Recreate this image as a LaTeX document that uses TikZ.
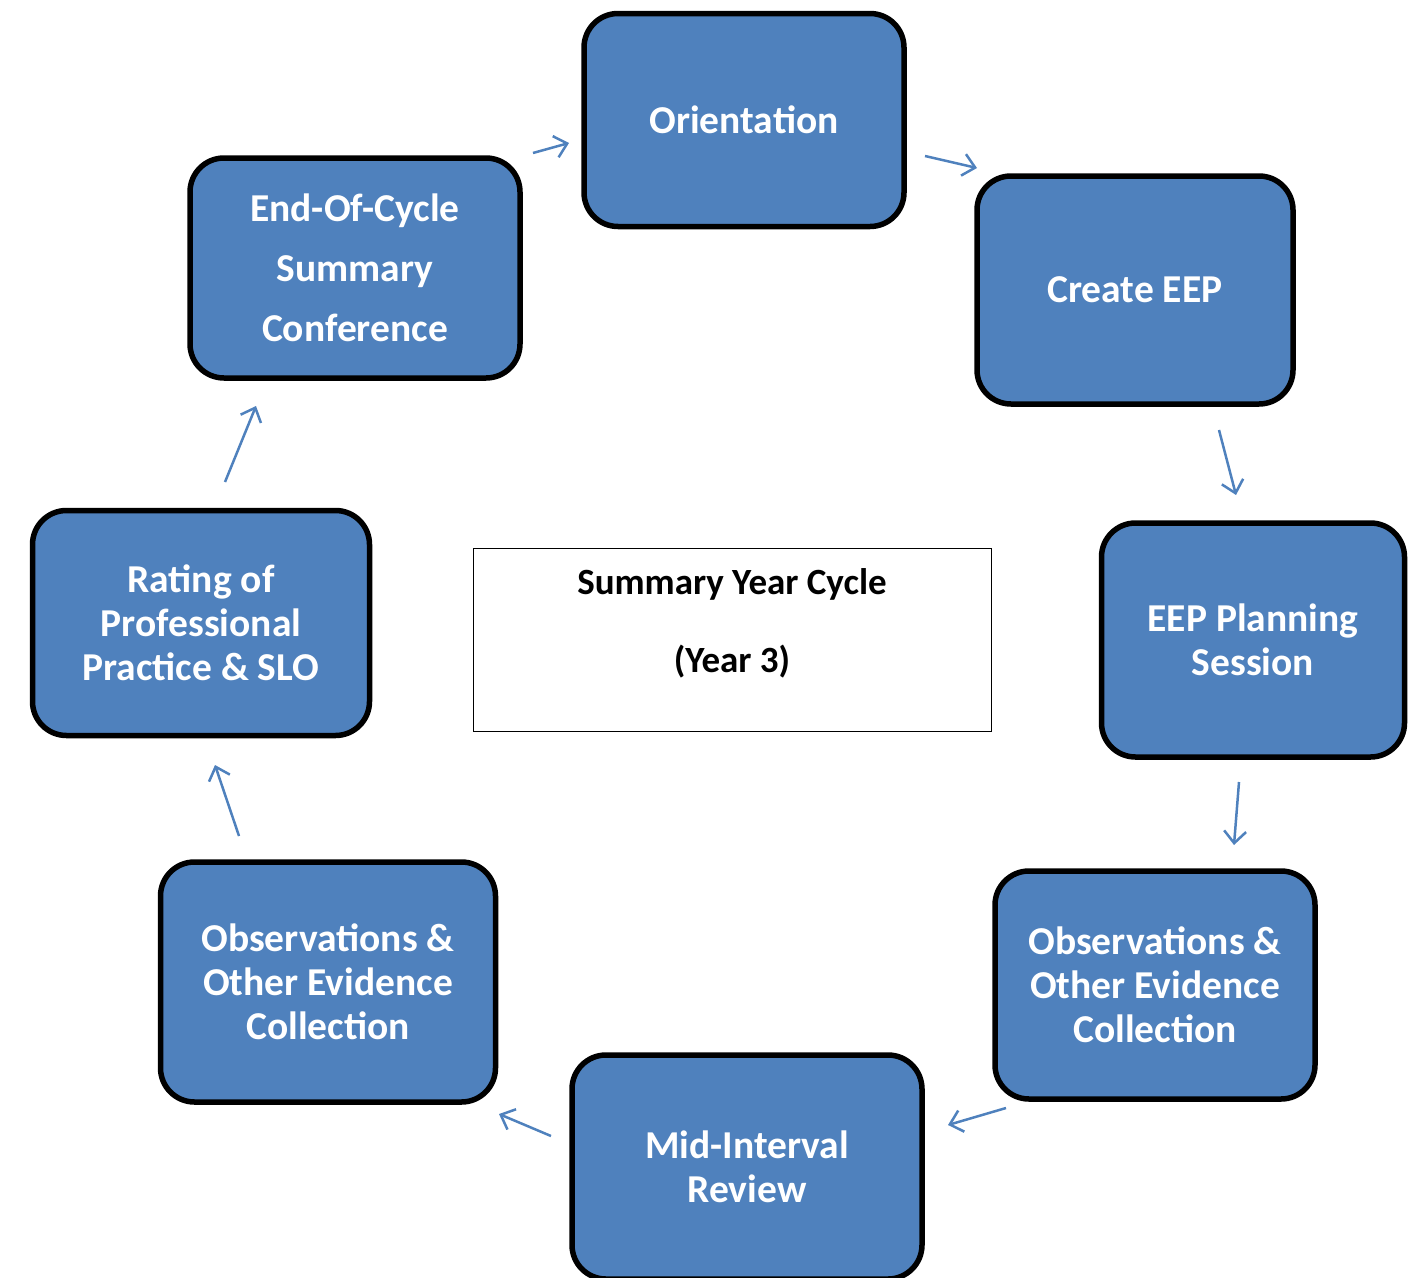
\documentclass[tikz,border=0pt]{standalone}
\usepackage{fontspec}
\setmainfont{Carlito}
\usetikzlibrary{arrows.meta}
\definecolor{stageblue}{HTML}{4F81BD}

\begin{document}
\begin{tikzpicture}[x=1pt,y=-1pt,
	stage/.style={draw=black,line width=5.5pt,fill=stageblue,rounded corners=34pt,
		text=white,align=center,inner sep=0pt,font=\bfseries\fontsize{39.5}{44}\selectfont},
	flow/.style={draw=stageblue,line width=2.5pt,-{Straight Barb[length=12pt,width=22pt]}}]
	\useasboundingbox (0,0) rectangle (1424,1277);
	% the eight stages of the cycle
	\node[stage,minimum width=320pt,minimum height=213pt] (orient) at (744,120) {Orientation};
	\node[stage,minimum width=316pt,minimum height=228pt] (create) at (1135,290) {Create EEP};
	\node[stage,minimum width=303pt,minimum height=234pt] (plan) at (1253,640) {EEP Planning\\Session};
	\node[stage,minimum width=320pt,minimum height=228pt] (obsright) at (1155,985) {Observations \&\\Other Evidence\\Collection};
	\node[stage,minimum width=350pt,minimum height=224pt] (mid) at (747,1167) {Mid-Interval\\Review};
	\node[stage,minimum width=335pt,minimum height=240pt] (obsleft) at (328,982) {Observations \&\\Other Evidence\\Collection};
	\node[stage,minimum width=337pt,minimum height=225pt] (rating) at (201,623) {Rating of\\Professional\\Practice \& SLO};
	\node[stage,minimum width=330pt,minimum height=220pt,font=\bfseries\fontsize{39.5}{60}\selectfont] (endcycle) at (355,268) {End-Of-Cycle\\Summary\\Conference};
	% title box in the middle
	\node[draw=black,line width=1pt,minimum width=518pt,minimum height=183pt] (title) at (732,640) {};
	\node[align=center,inner sep=0pt,font=\bfseries\fontsize{37}{39}\selectfont] (titletext) at (732,623) {Summary Year Cycle\\[39pt](Year 3)};
	% free arrow ends
	\coordinate (a1) at (533,153);   \coordinate (b1) at (569,143);
	\coordinate (a2) at (925,156);   \coordinate (b2) at (977,168);
	\coordinate (a3) at (1219,430);  \coordinate (b3) at (1236,495);
	\coordinate (a4) at (1239,782);  \coordinate (b4) at (1234,845);
	\coordinate (a5) at (1006,1108); \coordinate (b5) at (948,1125);
	\coordinate (a6) at (551,1136);  \coordinate (b6) at (499,1114);
	\coordinate (a7) at (239,836);   \coordinate (b7) at (215,765);
	\coordinate (a8) at (225,482);   \coordinate (b8) at (256,406);
	\foreach \i in {1,...,8}
		\draw[flow] (a\i) -- (b\i);
\end{tikzpicture}
\end{document}
